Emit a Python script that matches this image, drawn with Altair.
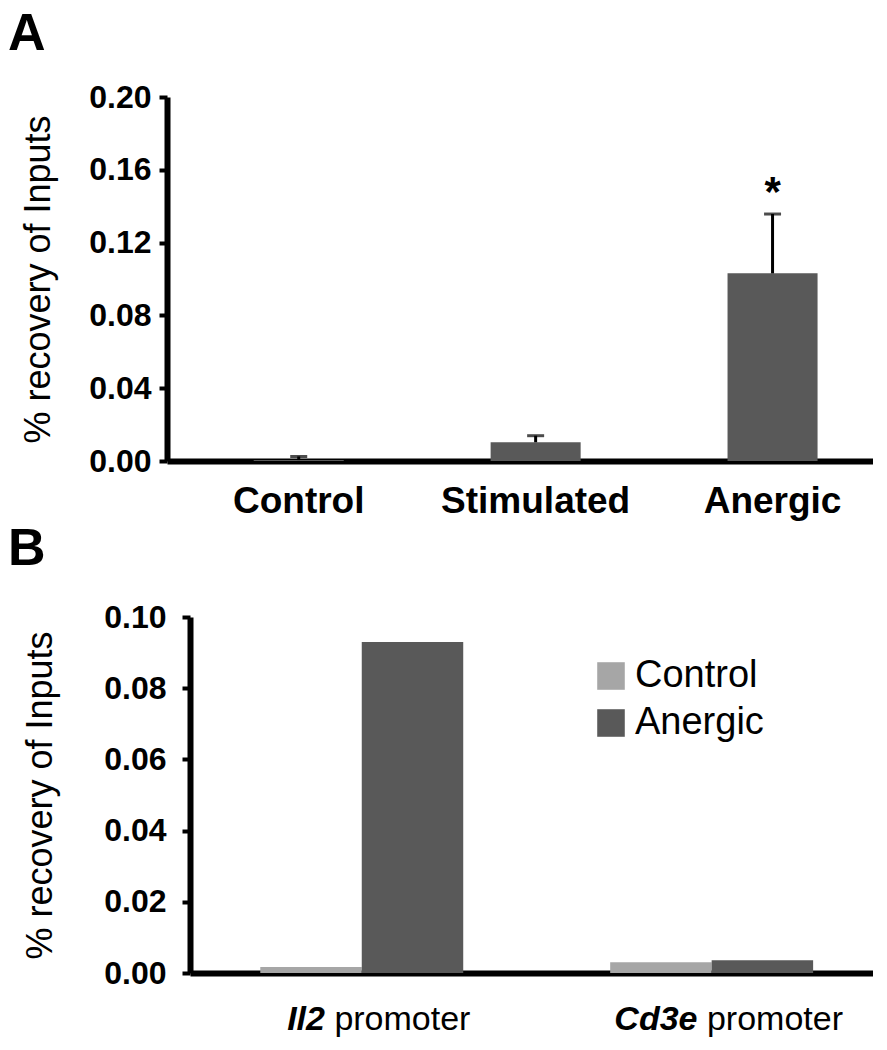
import altair as alt
import pandas as pd

FONT = "Liberation Sans"

# ---------------- Panel A data ----------------
groups_a = ["Control", "Stimulated", "Anergic"]
mean_a = [0.0005, 0.0103, 0.1031]
sem_a = [0.0020, 0.0036, 0.0326]
signif_a = ["", "", "*"]
yticks_a = [0.0, 0.04, 0.08, 0.12, 0.16, 0.20]

# ---------------- Panel B data ----------------
promoters_b = ["Il2 promoter", "Cd3e promoter"]
genes_b = ["Il2", "Cd3e"]
series_b = ["Control", "Anergic"]
control_b = [0.0017, 0.0030]
anergic_b = [0.0930, 0.0036]
colors_b = ["#a6a6a6", "#595959"]
yticks_b = [0.0, 0.02, 0.04, 0.06, 0.08, 0.10]

panel_labels = ["A", "B"]

df_a = pd.DataFrame({"group": groups_a, "mean": mean_a, "sem": sem_a, "sig": signif_a})
df_a["top"] = df_a["mean"] + df_a["sem"]

rows = []
for p, c, a in zip(promoters_b, control_b, anergic_b):
    rows.append({"promoter": p, "series": "Control", "value": c})
    rows.append({"promoter": p, "series": "Anergic", "value": a})
df_b = pd.DataFrame(rows)
df_lab = pd.DataFrame({"promoter": promoters_b, "gene": genes_b, "rest": ["promoter", "promoter"]})


def panel_label(letter, y):
    return alt.Chart(pd.DataFrame({"panel": [letter]})).mark_text(
        font=FONT, fontSize=52, fontWeight="bold", align="left", baseline="alphabetic",
        color="black").encode(x=alt.value(-159), y=alt.value(y), text="panel:N")


# ---------------- Panel A chart ----------------
WA, HA = 706, 364
xa_scale = alt.Scale(paddingInner=0.62, paddingOuter=0.30, align=0.61)
xA = alt.X("group:N", sort=groups_a, title=None, scale=xa_scale,
           axis=alt.Axis(labelFont=FONT, labelFontSize=37, labelFontWeight="bold",
                         labelColor="black", labelAngle=0, ticks=False, labelPadding=22,
                         labelLimit=0, domainColor="black", domainWidth=6))
yA = alt.Y("mean:Q", title="% recovery of Inputs",
           scale=alt.Scale(domain=[0, 0.2], nice=False),
           axis=alt.Axis(values=yticks_a, format=".2f", grid=False,
                         labelFont=FONT, labelFontSize=32, labelFontWeight="bold",
                         labelColor="black", labelPadding=8,
                         tickSize=8, tickWidth=4, tickColor="black",
                         domainColor="black", domainWidth=6,
                         titleFont=FONT, titleFontSize=36, titleFontWeight="normal",
                         titleColor="black", titleX=-110))
baseA = alt.Chart(df_a)
barsA = baseA.mark_bar(color="#595959").encode(x=xA, y=yA)
xA2 = alt.X("group:N", sort=groups_a)
errA = baseA.mark_rule(color="black", strokeWidth=3).encode(x=xA2, y="mean:Q", y2="top:Q")
capA = baseA.mark_tick(color="black", thickness=3, size=17, orient="horizontal").encode(x=xA2, y="top:Q")
starA = baseA.mark_text(font=FONT, fontSize=42, fontWeight="bold", baseline="alphabetic",
                        dy=-8, color="black").encode(x=xA2, y="top:Q", text="sig:N")

chartA = alt.layer(barsA, errA, capA, starA, panel_label(panel_labels[0], -47)).properties(
    width=WA, height=HA)

# ---------------- Panel B chart ----------------
WB, HB = 706, 356
SHIFT_B = 23
xb_scale = alt.Scale(paddingInner=0.42, paddingOuter=0.186, align=0.54, range=[SHIFT_B, WB])
xB = alt.X("promoter:N", sort=promoters_b, title=None, scale=xb_scale,
           axis=alt.Axis(labels=False, ticks=False, domainColor="black", domainWidth=6))
yB = alt.Y("value:Q", title="% recovery of Inputs",
           scale=alt.Scale(domain=[0, 0.1], nice=False),
           axis=alt.Axis(values=yticks_b, format=".2f", grid=False, offset=-SHIFT_B,
                         labelFont=FONT, labelFontSize=32, labelFontWeight="bold",
                         labelColor="black", labelPadding=16,
                         tickSize=8, tickWidth=4, tickColor="black",
                         domainColor="black", domainWidth=6,
                         titleFont=FONT, titleFontSize=36, titleFontWeight="normal",
                         titleColor="black", titleX=-131))
colB = alt.Color("series:N", sort=series_b,
                 scale=alt.Scale(domain=series_b, range=colors_b),
                 legend=alt.Legend(title=None, orient="none", legendX=425, legendY=40,
                                   symbolType="square", symbolSize=760, symbolStrokeWidth=0,
                                   symbolOpacity=1, labelFont=FONT, labelFontSize=38,
                                   labelColor="black", rowPadding=9, labelOffset=5,
                                   padding=0))
barsB = alt.Chart(df_b).mark_bar().encode(
    x=xB, y=yB,
    xOffset=alt.XOffset("series:N", sort=series_b, scale=alt.Scale(paddingInner=0, paddingOuter=0)),
    color=colB)

FS_B = 34
LABEL_SHIFT = 17
gene_em = {"Il2": 1.112, "Cd3e": 2.445}
space_em = 0.278
rest_em = 4.0
label_layers = []
for p, g in zip(promoters_b, genes_b):
    total = (gene_em[g] + space_em + rest_em) * FS_B
    start = -total / 2 + LABEL_SHIFT
    sub = alt.Chart(df_lab).transform_filter(alt.datum.promoter == p)
    label_layers.append(sub.mark_text(font=FONT, fontSize=FS_B, fontWeight="bold", fontStyle="italic",
                                      align="left", baseline="alphabetic", dx=start, color="black")
                        .encode(x=alt.X("promoter:N", sort=promoters_b), y=alt.value(HB + 57), text="gene:N"))
    label_layers.append(sub.mark_text(font=FONT, fontSize=FS_B, fontWeight="normal",
                                      align="left", baseline="alphabetic",
                                      dx=start + (gene_em[g] + space_em) * FS_B, color="black")
                        .encode(x=alt.X("promoter:N", sort=promoters_b), y=alt.value(HB + 57), text="rest:N"))

chartB = alt.layer(barsB, *label_layers, panel_label(panel_labels[1], -52)).properties(
    width=WB, height=HB)

chart = alt.vconcat(chartA, chartB, spacing=4).resolve_scale(
    color="independent").resolve_legend(color="independent").properties(
    padding={"left": 0, "top": 0, "right": 0, "bottom": 0}).configure(
    font=FONT, background="white").configure_view(stroke=None, strokeWidth=0)

chart.save("out.html", embed_options={"renderer": "svg", "actions": False})
